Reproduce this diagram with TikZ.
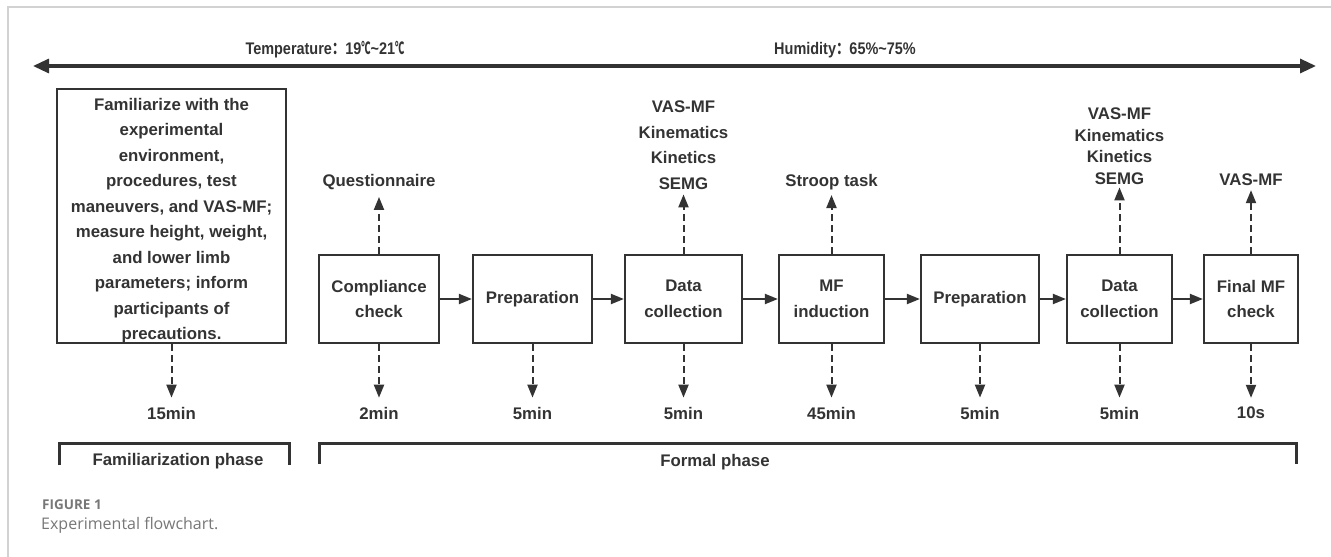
\documentclass[tikz,border=0pt]{standalone}
\usepackage{fontspec}
\setmainfont{Liberation Sans}
\newfontfamily\capfont{Open Sans}
\newfontfamily\envfont{Liberation Sans}[FakeStretch=0.86]
\newfontfamily\cjkcolon{Noto Sans CJK SC}[FakeStretch=0.8]
\newfontfamily\cjknarrow{Noto Sans CJK SC}[FakeStretch=0.55]
\usetikzlibrary{arrows.meta}
\definecolor{ink}{HTML}{333333}
\definecolor{capgray}{HTML}{777777}
\definecolor{framegray}{HTML}{D2D2D2}
\tikzset{
  stepbox/.style={draw=ink, line width=2.2pt, inner sep=0pt, align=center, text=ink,
    font=\bfseries\fontsize{16.8pt}{25.5pt}\selectfont},
  lbl/.style={inner sep=0pt, align=center, text=ink, font=\bfseries\fontsize{16.8pt}{25.5pt}\selectfont},
  envlbl/.style={inner sep=0pt, text=ink, font=\envfont\bfseries\fontsize{16.8pt}{20pt}\selectfont},
  flowarrow/.style={draw=ink, line width=2pt, -{Triangle[length=13pt,width=10pt]}},
  dasharrow/.style={draw=ink, line width=2pt, dash pattern=on 7pt off 4pt, -{Triangle[length=13pt,width=10pt]}},
  mainarrow/.style={draw=ink, line width=3.2pt, {Triangle[length=16pt,width=14pt]}-{Triangle[length=16pt,width=14pt]}},
  bracket/.style={draw=ink, line width=3pt},
}
\begin{document}
\begin{tikzpicture}[x=1pt,y=-1pt]
\useasboundingbox (0,0) rectangle (1331,557);
% frame
\draw[framegray, line width=1.5pt] (8,557) -- (8,7) -- (1331,7);
% main arrow
\coordinate (L) at (33,66);
\coordinate (R) at (1316,66);
\draw[mainarrow] (L) -- (R);
\node[envlbl] (temp) at (325,50) {Temperature{\cjkcolon ：}19{\cjknarrow ℃}\textasciitilde21{\cjknarrow ℃}};
\node[envlbl] (hum) at (845,50) {Humidity{\cjkcolon ：}65\%\textasciitilde75\%};
% boxes
\node[stepbox, minimum width=229pt, minimum height=254pt] (fam) at (171.5,216)
 {\rule{0pt}{21pt}Familiarize with the\\experimental\\environment,\\procedures, test\\maneuvers, and VAS-MF;\\measure height, weight,\\and lower limb\\parameters; inform\\participants of\\precautions.};
\node[stepbox, minimum width=120pt, minimum height=88pt] (cc) at (379,299) {Compliance\\check};
\node[stepbox, minimum width=119pt, minimum height=88pt] (p1) at (532.5,299) {Preparation};
\node[stepbox, minimum width=117pt, minimum height=88pt] (dc1) at (683.5,299) {Data\\collection};
\node[stepbox, minimum width=105pt, minimum height=88pt] (mf) at (831.5,299) {MF\\induction};
\node[stepbox, minimum width=118pt, minimum height=88pt] (p2) at (980,299) {Preparation};
\node[stepbox, minimum width=105pt, minimum height=88pt] (dc2) at (1119.5,299) {Data\\collection};
\node[stepbox, minimum width=94pt, minimum height=88pt] (fin) at (1251,299) {Final MF\\check};
% flow arrows
\draw[flowarrow] (cc) -- (p1);
\draw[flowarrow] (p1) -- (dc1);
\draw[flowarrow] (dc1) -- (mf);
\draw[flowarrow] (mf) -- (p2);
\draw[flowarrow] (p2) -- (dc2);
\draw[flowarrow] (dc2) -- (fin);
% top labels
\node[lbl] (tq) at (379,182) {Questionnaire};
\node[lbl] (td1) at (683.5,145) {VAS-MF\\Kinematics\\Kinetics\\SEMG};
\node[lbl] (ts) at (831.5,182) {Stroop task};
\node[lbl, font=\bfseries\fontsize{16.8pt}{21.5pt}\selectfont] (td2) at (1119.5,146) {VAS-MF\\Kinematics\\Kinetics\\SEMG};
\node[lbl] (tf) at (1251,180) {VAS-MF};
\draw[dasharrow] (cc.north) -- ([yshift=-7pt]tq.south);
\draw[dasharrow] (dc1.north) -- ([yshift=-5pt]td1.south);
\draw[dasharrow] (mf.north) -- ([yshift=-5pt]ts.south);
\draw[dasharrow] (dc2.north) -- ([yshift=-3pt]td2.south);
\draw[dasharrow] (fin.north) -- ([yshift=-4pt]tf.south);
% bottom labels
\node[lbl] (bf) at (171.5,413) {15min};
\node[lbl] (bc) at (379,413) {2min};
\node[lbl] (bp1) at (532.5,413) {5min};
\node[lbl] (bd1) at (683.5,413) {5min};
\node[lbl] (bm) at (831.5,413) {45min};
\node[lbl] (bp2) at (980,413) {5min};
\node[lbl] (bd2) at (1119.5,413) {5min};
\node[lbl] (bfin) at (1251,413) {10s};
\draw[dasharrow] (fam.south) -- ([yshift=9pt]bf.north);
\draw[dasharrow] (cc.south) -- ([yshift=9pt]bc.north);
\draw[dasharrow] (p1.south) -- ([yshift=9pt]bp1.north);
\draw[dasharrow] (dc1.south) -- ([yshift=9pt]bd1.north);
\draw[dasharrow] (mf.south) -- ([yshift=9pt]bm.north);
\draw[dasharrow] (p2.south) -- ([yshift=9pt]bp2.north);
\draw[dasharrow] (dc2.south) -- ([yshift=9pt]bd2.north);
\draw[dasharrow] (fin.south) -- ([yshift=9pt]bfin.north);
% brackets
\draw[bracket] (59,465) -- (59,443) -- (289,443) -- (289,465);
\node[lbl] (phf) at (178,461) {Familiarization phase};
\draw[bracket] (319,464) -- (319,443) -- (1296,443) -- (1296,464);
\node[lbl] (phm) at (715,462) {Formal phase};
% caption
\node[anchor=west, inner sep=0pt, text=capgray, font=\capfont\bfseries\fontsize{13.5pt}{16pt}\selectfont] (figno) at (42,505) {FIGURE 1};
\node[anchor=west, inner sep=0pt, text=capgray, font=\capfont\fontsize{16pt}{20pt}\selectfont] (figcap) at (41,525) {Experimental flowchart.};
\end{tikzpicture}
\end{document}
